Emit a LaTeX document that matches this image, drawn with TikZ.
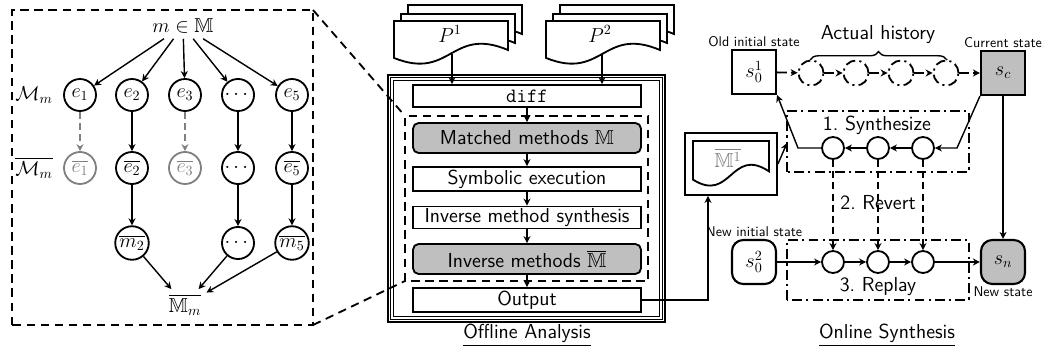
\documentclass[tikz,border=0pt]{standalone}
\usepackage{amsmath}
\usepackage{amssymb}
\usepackage{tikz}
\usetikzlibrary{arrows.meta,decorations.pathreplacing}

% sheet with a wavy lower edge: top-left corner, width, height
\newcommand{\docpage}[3]{%
  \draw[line width=1.3pt,fill=white] #1 -- ++(#2,0) -- ++(0,-0.66*#3)
    .. controls +(-0.5*#2,0.55*#3) and +(0.5*#2,-0.52*#3) .. ++(-#2,-0.18*#3) -- cycle;}

\begin{document}
\begin{tikzpicture}[
        font=\sffamily\Large,
        line width=1pt,
        >={Stealth[length=5pt,width=5pt]},
        event/.style={circle,draw,line width=1.3pt,minimum size=8mm,inner sep=1pt},
        lost/.style={event,gray},
        stepbox/.style={draw,line width=1.3pt,fill=white,minimum width=5.7cm,inner sep=1pt},
        keybox/.style={stepbox,fill=gray!50,rounded corners=4pt,minimum height=7.5mm},
        statebox/.style={draw,line width=1.5pt,minimum size=1.1cm,inner sep=1pt},
        point/.style={circle,draw,line width=1.3pt,minimum size=5.5mm,inner sep=0pt},
        ghost/.style={circle,draw,region,minimum size=6.25mm,inner sep=0pt},
        tag/.style={font=\sffamily\normalsize,inner sep=1pt},
        zoomline/.style={line width=1.3pt,dash pattern=on 6pt off 4pt},
        region/.style={line width=1.3pt,dash pattern=on 7pt off 3pt on 1.5pt off 3pt},
        faint/.style={dash pattern=on 5pt off 3pt}
    ]
    \useasboundingbox (0,0) rectangle (26.075,8.8);

    % per-method view
    \draw[zoomline] (0.3,0.675) rectangle (7.825,8.55);
    \node (mset) at (4.575,8.15) {$m \in \mathbb{M}$};

    \node (rowm) at (0.85,6.425) {$\mathcal{M}_m$};
    \node[event] (e1) at (2.0,6.425) {$e_1$};
    \node[event] (e2) at (3.3,6.425) {$e_2$};
    \node[event] (e3) at (4.625,6.425) {$e_3$};
    \node[event] (e4) at (5.95,6.425) {$\cdots$};
    \node[event] (e5) at (7.3,6.425) {$e_5$};

    \node (rowmbar) at (0.85,4.6) {$\overline{\mathcal{M}_m}$};
    \node[lost] (be1) at (2.0,4.6) {$\overline{e_1}$};
    \node[event] (be2) at (3.3,4.6) {$\overline{e_2}$};
    \node[lost] (be3) at (4.625,4.6) {$\overline{e_3}$};
    \node[event] (be4) at (5.95,4.6) {$\cdots$};
    \node[event] (be5) at (7.3,4.6) {$\overline{e_5}$};

    \node[event] (bm2) at (3.3,2.725) {$\overline{m_2}$};
    \node[event] (bm4) at (5.95,2.725) {$\cdots$};
    \node[event] (bm5) at (7.3,2.725) {$\overline{m_5}$};
    \node (bset) at (4.625,1.175) {$\overline{\mathbb{M}_m}$};

    \foreach \i in {1,...,5}
        \draw[->] (mset) -- (e\i);
    \draw[->,gray,faint] (e1) -- (be1);
    \draw[->,gray,faint] (e3) -- (be3);
    \foreach \i in {2,4,5} {
        \draw[->] (e\i) -- (be\i);
        \draw[->] (be\i) -- (bm\i);
        \draw[->] (bm\i) -- (bset);
    }

    % offline analysis
    \foreach \d in {0,0.07,0.14}
        \draw[line width=0.9pt] (9.7+\d,0.75+\d) rectangle (16.625-\d,6.925-\d);
    \draw[zoomline] (10.125,1.775) rectangle (16.2,5.9);
    \draw[zoomline] (7.825,8.55) -- (10.125,5.9);
    \draw[zoomline] (7.825,0.675) -- (10.125,1.775);

    \docpage{(10.2,8.675)}{2.85}{1.1}
    \docpage{(10.025,8.45)}{2.85}{1.1}
    \docpage{(9.85,8.275)}{2.85}{1.1}
    \node (p1) at (11.25,7.95) {$P^1$};
    \coordinate (p1out) at (11.3,7.45);

    \docpage{(14.0,8.675)}{2.85}{1.1}
    \docpage{(13.825,8.45)}{2.85}{1.1}
    \docpage{(13.65,8.275)}{2.85}{1.1}
    \node (p2) at (15.0,7.95) {$P^2$};
    \coordinate (p2out) at (15.05,7.45);

    \node[stepbox,minimum height=5.5mm,font=\ttfamily\Large] (diff) at (13.175,6.4) {diff};
    \node[keybox] (matched) at (13.175,5.35) {Matched methods $\mathbb{M}$};
    \node[stepbox,minimum height=6mm] (symexec) at (13.175,4.325) {Symbolic execution};
    \node[stepbox,minimum height=5.5mm] (invsyn) at (13.175,3.3625) {Inverse method synthesis};
    \node[keybox] (invm) at (13.175,2.325) {Inverse methods $\overline{\mathbb{M}}$};
    \node[stepbox,minimum height=6mm] (output) at (13.175,1.3) {Output};
    \node (offline) at (13.175,0.425) {\underline{Offline Analysis}};

    \draw[->] (p1out) -- (p1out |- diff.north);
    \draw[->] (p2out) -- (p2out |- diff.north);
    \draw[->] (diff) -- (matched);
    \draw[->] (matched) -- (symexec);
    \draw[->] (symexec) -- (invsyn);
    \draw[->] (invsyn) -- (invm);
    \draw[->] (invm) -- (output);

    % generated inverses
    \node[draw,line width=1.3pt,minimum width=2.3cm,minimum height=1.55cm] (mbar) at (18.275,4.7) {};
    \docpage{(17.325,5.275)}{1.9}{1.15}
    \node[gray] (mbartext) at (18.2,4.85) {$\overline{\mathbb{M}^1}$};
    \draw[->] (output.east) -| ([xshift=-5.75mm]mbar.south);

    % online synthesis
    \node[statebox,label={[tag]above:Old initial state}] (s01) at (18.85,7.0) {$s_0^1$};
    \node[statebox,fill=gray!50,label={[tag]above:Current state}] (sc) at (25.075,6.975) {$s_c$};
    \node[ghost] (h1) at (20.275,6.975) {};
    \node[ghost] (h2) at (21.4,6.975) {};
    \node[ghost] (h3) at (22.525,6.975) {};
    \node[ghost] (h4) at (23.65,6.975) {};
    \draw[region,->] (s01) -- (h1);
    \draw[region,->] (h1) -- (h2);
    \draw[region,->] (h2) -- (h3);
    \draw[region,->] (h3) -- (h4);
    \draw[region,->] (h4) -- (sc);
    \draw[decorate,decoration={brace,amplitude=6pt}] (20.25,7.3) -- (23.675,7.3);
    \node (acthist) at (21.95,7.925) {Actual history};

    \draw[region] (19.675,4.5) rectangle (24.225,6.025);
    \node (step1) at (21.925,5.675) {1.~Synthesize};
    \node[point] (sy1) at (20.825,5.1) {};
    \node[point] (sy2) at (21.95,5.1) {};
    \node[point] (sy3) at (23.075,5.1) {};
    \coordinate (bendr) at (23.925,5.1);
    \coordinate (bendl) at (19.95,5.1);
    \coordinate (synin) at (19.675,5.225);
    \draw[->] (sc.south west) -- (bendr) -- (sy3);
    \draw[->] (sy3) -- (sy2);
    \draw[->] (sy2) -- (sy1);
    \draw[->] (sy1) -- (bendl) -- (s01.south east);
    \draw[->] (mbar.east) -- (synin);

    \draw[region] (19.675,1.3) rectangle (24.225,2.8);
    \node (step3) at (21.95,1.625) {3.~Replay};
    \node[point] (rp1) at (20.825,2.25) {};
    \node[point] (rp2) at (21.95,2.25) {};
    \node[point] (rp3) at (23.075,2.25) {};
    \node (step2) at (21.95,3.725) {2.~Revert};
    \foreach \i in {1,2,3}
        \draw[faint,->] (sy\i) -- (rp\i);

    \node[statebox,rounded corners=8pt,label={[tag]above:New initial state}] (s02) at (18.85,2.25) {$s_0^2$};
    \node[statebox,rounded corners=8pt,fill=gray!50,label={[tag]below:New state}] (sn) at (25.075,2.25) {$s_n$};
    \draw[->] (s02) -- (rp1);
    \draw[->] (rp1) -- (rp2);
    \draw[->] (rp2) -- (rp3);
    \draw[->] (rp3) -- (sn);
    \draw[->] (sc) -- (sn);
    \node (online) at (22.175,0.425) {\underline{Online Synthesis}};

\end{tikzpicture}
\end{document}
